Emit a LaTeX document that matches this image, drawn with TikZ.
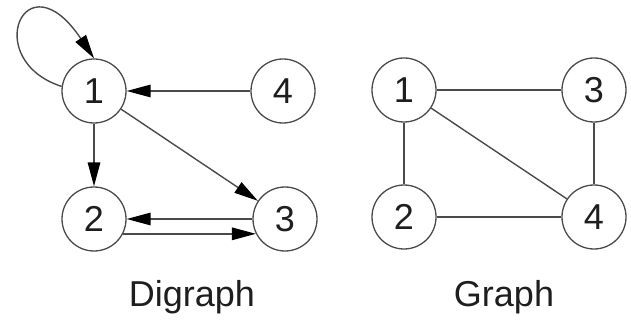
\documentclass[tikz,border=0pt]{standalone}
\usepackage{fontspec}
\setmainfont{Liberation Sans}
\usetikzlibrary{arrows.meta}
\definecolor{edgegray}{HTML}{4A4A4A}
\definecolor{inkdark}{HTML}{1E1E1E}
\begin{document}
\begin{tikzpicture}[x=1pt,y=-1pt,
  vertex/.style={circle,draw=edgegray,line width=1.3pt,minimum size=64pt,inner sep=0pt,
    font=\fontsize{36}{36}\selectfont,text=inkdark},
  link/.style={draw=edgegray,line width=1.4pt},
  arc/.style={link,-{Triangle[length=24pt,width=12.5pt,fill=black,color=black]}},
  caption/.style={font=\fontsize{36}{36}\selectfont,text=inkdark,anchor=base}]
\useasboundingbox (0,0) rectangle (631,320);

% Directed graph
\node[vertex] (d1) at (94,91) {1};
\node[vertex] (d4) at (283,91) {4};
\node[vertex] (d2) at (94,219) {2};
\node[vertex] (d3) at (285,219) {3};

\draw[arc] (d1.172) .. controls (-20,60) and (25,-45) .. (d1.north);
\draw[arc] (d4) -- (d1);
\draw[arc] (d1) -- (d2);
\draw[arc] (d1) -- (d3);
\draw[arc] (d3.west) -- (d2.east);
\draw[arc] (d2.-27) -- (d3.207);

\node[caption] (dcap) at (192,306) {Digraph};

% Undirected graph
\node[vertex] (g1) at (404,90) {1};
\node[vertex] (g3) at (594,90) {3};
\node[vertex] (g2) at (404,217) {2};
\node[vertex] (g4) at (594,217) {4};

\draw[link] (g1) -- (g3);
\draw[link] (g1) -- (g2);
\draw[link] (g3) -- (g4);
\draw[link] (g2) -- (g4);
\draw[link] (g1) -- (g4);

\node[caption] (gcap) at (504,306) {Graph};
\end{tikzpicture}
\end{document}
